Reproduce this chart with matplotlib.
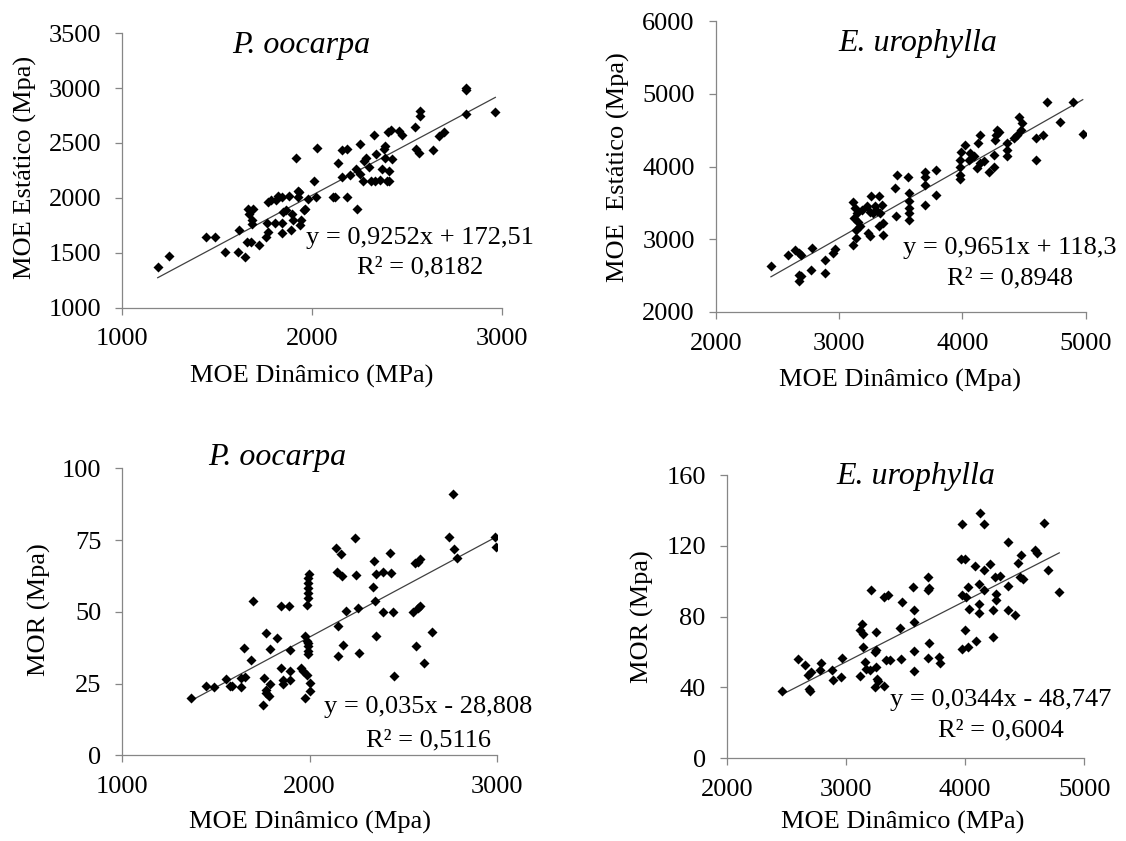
import numpy as np
import matplotlib
matplotlib.use("Agg")
import matplotlib.pyplot as plt

# P. oocarpa - MOE dinamico x MOE estatico
po_moed = [1188, 1246, 1442, 1489, 1542, 1612, 1618, 1647, 1656, 1665, 1688, 1670, 1682, 1682, 1679,
           1723, 1758, 1767, 1767, 1763, 1784, 1810, 1819, 1842, 1805, 1842, 1842, 1846, 1863, 1881,
           1889, 1895, 1898, 1916, 1925, 1928, 1933, 1939, 1942, 1960, 1963, 1977, 2021, 2009, 2026,
           2109, 2121, 2135, 2156, 2156, 2184, 2184, 2202, 2232, 2237, 2253, 2254, 2267, 2275, 2284,
           2302, 2311, 2325, 2332, 2337, 2358, 2367, 2381, 2384, 2384, 2395, 2407, 2407, 2402, 2416,
           2421, 2460, 2472, 2544, 2547, 2565, 2570, 2570, 2635, 2667, 2696, 2811, 2811, 2811, 2965]
po_moee = [1373, 1470, 1645, 1645, 1503, 1503, 1711, 1464, 1596, 1901, 1901, 1855, 1795, 1759, 1599,
           1569, 1645, 1690, 1961, 1771, 1976, 1976, 2021, 2006, 1771, 1675, 1774, 1870, 1886, 2021,
           1705, 1855, 1801, 2367, 2066, 2006, 2051, 1750, 1795, 1886, 1901, 1991, 2006, 2157, 2458,
           2006, 2006, 2313, 2187, 2434, 2443, 2006, 2211, 2262, 1901, 2488, 2217, 2157, 2337, 2361,
           2277, 2157, 2572, 2157, 2404, 2163, 2262, 2443, 2473, 2367, 2157, 2247, 2157, 2599, 2614,
           2352, 2608, 2569, 2645, 2443, 2407, 2789, 2750, 2434, 2560, 2599, 3000, 2985, 2768, 2780]

# E. urophylla - MOE dinamico x MOE estatico
eu_moed = [2448, 2584, 2644, 2679, 2693, 2679, 2679, 2693, 2783, 2774, 2889, 2889, 2951, 2965, 3114,
           3114, 3120, 3128, 3136, 3141, 3149, 3155, 3168, 3190, 3223, 3236, 3250, 3258, 3277, 3250,
           3291, 3310, 3323, 3332, 3345, 3326, 3359, 3359, 3454, 3467, 3459, 3563, 3571, 3571, 3571,
           3571, 3571, 3693, 3693, 3693, 3698, 3785, 3785, 3984, 3984, 3984, 3984, 3989, 4024, 4052,
           4065, 4092, 4120, 4125, 4147, 4147, 4174, 4212, 4255, 4255, 4269, 4263, 4283, 4296, 4364,
           4364, 4364, 4418, 4446, 4459, 4486, 4473, 4595, 4595, 4655, 4690, 4793, 4899, 4976]
eu_moee = [2624, 2784, 2853, 2807, 2784, 2509, 2417, 2486, 2876, 2578, 2716, 2532, 2807, 2862, 3505,
           2922, 3289, 3427, 3128, 3014, 3358, 3229, 3174, 3394, 3450, 3083, 3037, 3587, 3358, 3367,
           3450, 3381, 3587, 3358, 3472, 3174, 3060, 3220, 3702, 3885, 3312, 3862, 3633, 3518, 3427,
           3358, 3266, 3931, 3862, 3748, 3472, 3954, 3610, 3826, 3885, 4000, 4092, 4206, 4298, 4092,
           4183, 4138, 3977, 4321, 4436, 4046, 4069, 3931, 4000, 4161, 4436, 4367, 4505, 4482, 4229,
           4321, 4138, 4390, 4436, 4688, 4596, 4505, 4390, 4092, 4436, 4894, 4619, 4894, 4445]

# P. oocarpa - MOE dinamico x MOR
po_moed2 = [1365, 1449, 1488, 1556, 1574, 1588, 1636, 1636, 1654, 1649, 1690, 1699, 1752, 1756, 1766,
            1770, 1784, 1788, 1770, 1788, 1829, 1850, 1891, 1850, 1856, 1859, 1895, 1895, 1898, 1957,
            1966, 1975, 1984, 2002, 2005, 1975, 1984, 1993, 1993, 1993, 1993, 1984, 1993, 1993, 1993,
            1993, 1993, 1997, 2141, 2145, 2166, 2171, 2153, 2153, 2180, 2194, 2242, 2251, 2257, 2266,
            2340, 2346, 2350, 2355, 2353, 2390, 2394, 2430, 2438, 2444, 2451, 2554, 2563, 2578, 2590,
            2581, 2590, 2569, 2613, 2652, 2747, 2765, 2772, 2786, 2991, 2996]
po_mor = [20.0, 24.3, 23.8, 26.6, 24.3, 24.1, 23.8, 27.0, 27.3, 37.4, 33.1, 53.6, 17.7, 27.0, 21.8,
          22.9, 20.6, 25.0, 42.6, 37.0, 40.9, 51.9, 51.9, 30.4, 24.7, 26.2, 36.8, 29.3, 26.2, 30.4,
          29.3, 20.0, 28.1, 22.3, 25.2, 41.4, 39.7, 38.0, 36.2, 39.1, 35.4, 52.4, 54.7, 56.5, 58.2,
          60.0, 61.7, 63.2, 72.1, 64.0, 70.1, 62.3, 44.9, 34.5, 38.5, 50.3, 75.6, 62.8, 51.3, 35.6,
          58.8, 67.8, 53.9, 63.1, 41.4, 64.0, 50.1, 70.6, 63.4, 50.1, 27.5, 49.8, 66.9, 67.5, 68.3,
          51.3, 51.9, 38.2, 32.2, 42.9, 76.2, 91.0, 71.8, 68.6, 76.2, 72.7]

# E. urophylla - MOE dinamico x MOR
eu_moed2 = [2465, 2602, 2653, 2681, 2689, 2700, 2709, 2779, 2787, 2885, 2891, 2961, 2966, 3115, 3115,
            3137, 3143, 3143, 3157, 3165, 3199, 3213, 3241, 3249, 3255, 3255, 3241, 3261, 3269, 3319,
            3319, 3353, 3339, 3367, 3459, 3451, 3473, 3563, 3569, 3569, 3569, 3569, 3689, 3689, 3695,
            3695, 3689, 3782, 3787, 3978, 3969, 3997, 3978, 4006, 4025, 4034, 3997, 3978, 4025, 4090,
            4081, 4123, 4160, 4118, 4118, 4118, 4160, 4160, 4213, 4235, 4235, 4249, 4263, 4258, 4291,
            4361, 4361, 4361, 4417, 4445, 4473, 4459, 4487, 4585, 4599, 4661, 4697, 4790]
eu_mor = [37.9, 55.8, 52.5, 46.8, 39.2, 37.9, 48.7, 49.6, 54.0, 49.6, 44.0, 45.8, 56.8, 46.4, 72.6,
          75.7, 70.4, 62.8, 54.3, 50.6, 49.6, 94.9, 60.0, 71.3, 60.9, 51.5, 40.2, 44.9, 43.6, 41.1,
          91.1, 92.1, 55.3, 55.7, 56.2, 73.8, 88.3, 96.8, 83.6, 77.0, 60.6, 49.2, 102.5, 94.9, 96.4,
          65.1, 56.8, 57.2, 54.0, 132.3, 112.8, 112.8, 92.1, 91.1, 96.8, 84.5, 72.6, 61.9, 62.8, 66.2,
          108.5, 138.7, 132.3, 98.7, 87.0, 82.1, 106.2, 94.9, 110.0, 83.6, 68.5, 102.5, 93.0, 89.2, 102.8,
          122.3, 97.2, 84.0, 80.8, 110.4, 114.7, 102.5, 101.5, 117.5, 116.2, 133.0, 106.2, 94.0]

# linhas de tendencia (y = a x + b)
slopes = [0.9252, 0.9651, 0.035, 0.0344]
intercepts = [172.51, 118.3, -28.808, -48.747]
equations = ["y = 0,9252x + 172,51", "y = 0,9651x + 118,3",
             "y = 0,035x - 28,808", "y = 0,0344x - 48,747"]
r2_labels = ["R² = 0,8182", "R² = 0,8948", "R² = 0,5116", "R² = 0,6004"]
titles = ["P. oocarpa", "E. urophylla", "P. oocarpa", "E. urophylla"]
xlabels = ["MOE Dinâmico (MPa)", "MOE Dinâmico (Mpa)", "MOE Dinâmico (Mpa)", "MOE Dinâmico (MPa)"]
ylabels = ["MOE Estático (Mpa)", "MOE  Estático (Mpa)", "MOR (Mpa)", "MOR (Mpa)"]
xticks = [[1000, 2000, 3000], [2000, 3000, 4000, 5000], [1000, 2000, 3000], [2000, 3000, 4000, 5000]]
yticks = [[1000, 1500, 2000, 2500, 3000, 3500], [2000, 3000, 4000, 5000, 6000],
          [0, 25, 50, 75, 100], [0, 40, 80, 120, 160]]

W, H = 1126, 841
plt.rcParams['font.family'] = ['Liberation Serif', 'DejaVu Serif']
fig = plt.figure(figsize=(W / 100, H / 100), dpi=100)


def px(x, y):
    return x / W, 1 - y / H


def box(left, right, top, bottom):
    return [left / W, 1 - bottom / H, (right - left) / W, (bottom - top) / H]


boxes = [box(122, 502, 33.3, 307.5), box(715.7, 1085.7, 21.3, 311.7),
         box(122.3, 496.7, 468.3, 755.3), box(726.7, 1084.3, 475, 758.3)]
title_pos = [(301, 45), (918, 43), (277, 458), (916, 477)]
eq_pos = [(420, 238, 267), (1010, 248, 278), (428, 707, 740), (1001, 700, 730)]
ylab_pos = [(25, 167), (618, 167), (39, 610), (642, 617)]
xlab_pos = [(312, 376), (900, 380), (310, 822), (903, 822)]

data = [(po_moed, po_moee), (eu_moed, eu_moee), (po_moed2, po_mor), (eu_moed2, eu_mor)]
gray = '#868686'

for i in range(4):
    ax = fig.add_axes(boxes[i])
    x, y = data[i]
    ax.scatter(x, y, marker='D', s=26, color='black', linewidths=0, zorder=3)
    xl = np.array([min(x), max(x)])
    ax.plot(xl, slopes[i] * xl + intercepts[i], color='#404040', lw=0.9, zorder=2)

    ax.set_xlim(xticks[i][0], xticks[i][-1])
    ax.set_ylim(yticks[i][0], yticks[i][-1])
    ax.set_xticks(xticks[i])
    ax.set_yticks(yticks[i])
    for s in ['top', 'right']:
        ax.spines[s].set_visible(False)
    for s in ['left', 'bottom']:
        ax.spines[s].set_color(gray)
        ax.spines[s].set_linewidth(0.9)
    ax.tick_params(axis='both', direction='out', color=gray, width=0.9, length=5,
                   pad=10, labelsize=19)
    ax.patch.set_alpha(0)

    fig.text(*px(*title_pos[i]), titles[i], fontsize=23, style='italic',
             ha='center', va='center')
    fig.text(*px(eq_pos[i][0], eq_pos[i][1]), equations[i], fontsize=19,
             ha='center', va='center')
    fig.text(*px(eq_pos[i][0], eq_pos[i][2]), r2_labels[i], fontsize=19,
             ha='center', va='center')
    fig.text(*px(*ylab_pos[i]), ylabels[i], fontsize=19, rotation=90,
             ha='center', va='center')
    fig.text(*px(*xlab_pos[i]), xlabels[i], fontsize=19, ha='center', va='center')

fig.savefig("out.png", dpi=100)
